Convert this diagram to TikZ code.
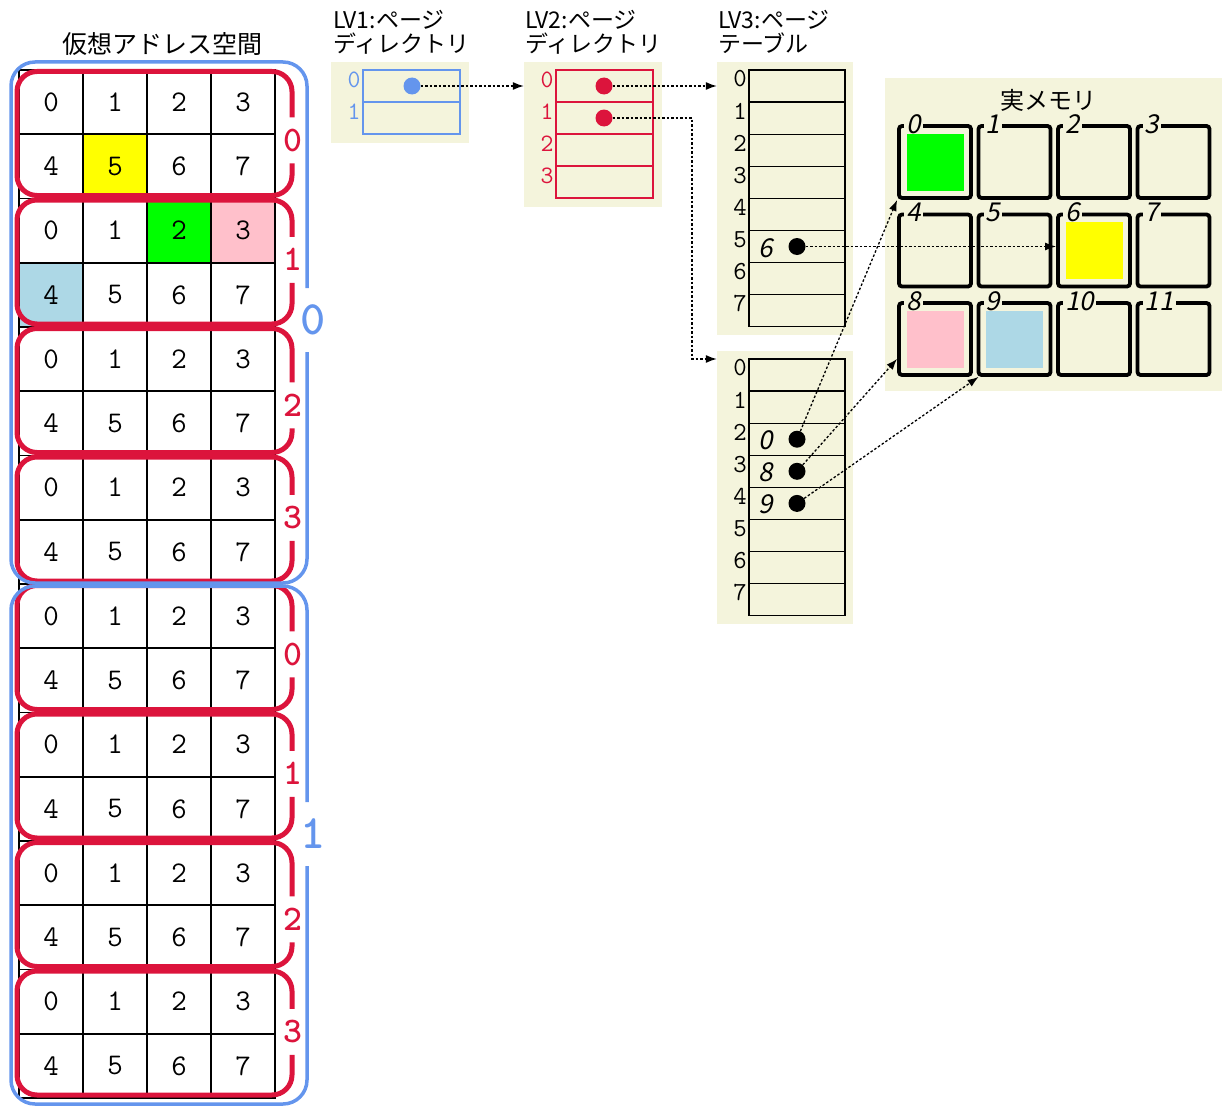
\documentclass[tikz,border=0pt]{standalone}
\usepackage{fontspec}
\setmainfont{Noto Sans CJK JP}
\newfontfamily\obliquefont[FakeSlant=0.2]{Noto Sans CJK JP}
\usepackage{tikz}
\usetikzlibrary{arrows.meta,calc}
\definecolor{membg}{HTML}{F4F4DC}
\definecolor{vred}{HTML}{DC143C}
\definecolor{vblue}{HTML}{6495ED}
\definecolor{pgyellow}{HTML}{FFFF00}
\definecolor{pggreen}{HTML}{00FF00}
\definecolor{pgpink}{HTML}{FFC0CB}
\definecolor{pgcyan}{HTML}{ADD8E6}

\begin{document}
\begin{tikzpicture}[x=1pt,y=-1pt,
  cell/.style={draw, line width=1.6pt, minimum width=64pt, minimum height=64.25pt, inner sep=0pt, font=\fontsize{30}{30}\selectfont\ttfamily},
  grpred/.style={draw=vred, line width=5pt, rounded corners=20pt},
  grpblue/.style={draw=vblue, line width=3.5pt, rounded corners=24pt},
  grplabel/.style={font=\fontsize{36}{36}\selectfont\ttfamily\bfseries, inner sep=0pt},
  dirlabel/.style={font=\fontsize{48}{48}\selectfont\ttfamily\bfseries, inner sep=0pt, text=vblue},
  titletext/.style={font=\fontsize{23}{24}\selectfont, inner sep=0pt},
  lvbg/.style={fill=membg, inner sep=0pt},
  lvrow/.style={minimum width=97pt, minimum height=32pt, inner sep=0pt, line width=1.3pt},
  idx/.style={font=\fontsize{25}{25}\selectfont\ttfamily, inner sep=0pt},
  dotmark/.style={circle, fill=black, minimum size=17pt, inner sep=0pt},
  italnum/.style={font=\fontsize{26}{26}\selectfont\obliquefont, inner sep=0pt},
  frame/.style={draw, line width=3.8pt, rounded corners=3pt, minimum size=72pt, inner sep=0pt},
  framelab/.style={font=\fontsize{26}{26}\selectfont\obliquefont, anchor=west, fill=membg, inner xsep=2pt, inner ysep=0pt},
  ptr/.style={line width=1.3pt, dash pattern=on 2.5pt off 2pt, -{Latex[length=11pt,width=8pt]}}]
  \useasboundingbox (0,0) rectangle (1229,1108);

  \node[titletext, font=\fontsize{25}{26}\selectfont] (vtitle) at (162,44) {仮想アドレス空間};
  \foreach \k/\c/\col in {1/1/pgyellow,2/2/pggreen,2/3/pgpink,3/0/pgcyan}
    \fill[\col] (19+64*\c,70+64.25*\k) rectangle (83+64*\c,134.25+64.25*\k);
  \foreach \k in {0,...,15}{
    \foreach \c in {0,...,3}{
      \pgfmathtruncatemacro{\v}{4*mod(\k,2)+\c}
      \node[cell] (cell-\k-\c) at (51+64*\c,102.1+64.25*\k) {\v};
    }
  }
  \foreach \b/\dy in {0/6,1/-3,2/14,3/-2,4/6,5/-3,6/14,7/-2}{
    \pgfmathsetmacro{\gtop}{71.5+128.5*\b}
    \pgfmathsetmacro{\gbot}{195.5+128.5*\b}
    \pgfmathsetmacro{\gmid}{134.25+128.5*\b+\dy}
    \pgfmathtruncatemacro{\glab}{mod(\b,4)}
    \draw[grpred] (292,\gmid-23) -- (292,\gtop) -- (17,\gtop) -- (17,\gbot) -- (292,\gbot) -- (292,\gmid+23);
    \node[grplabel, text=vred] (grp\b) at (293,\gmid) {\glab};
  }
  \draw[grpblue] (307,288) -- (307,62) -- (11,62) -- (11,583) -- (307,583) -- (307,352);
  \node[dirlabel] (dir0) at (313,320) {0};
  \draw[grpblue] (307,802) -- (307,586) -- (11,586) -- (11,1104) -- (307,1104) -- (307,866);
  \node[dirlabel] (dir1) at (313,834) {1};

  \node[titletext, align=left, anchor=west] (lv1t) at (333,32) {LV1:ページ\\ディレクトリ};
  \node[lvbg, minimum width=138pt, minimum height=81pt] (lv1bg) at (400,102.5) {};
  \foreach \i in {0,1}{
    \node[lvrow, draw=vblue] (lv1r\i) at (411.5,86+32*\i) {};
    \node[idx, text=vblue] (lv1i\i) at (354,80+32*\i) {\i};
  }
  \node[dotmark, fill=vblue] (lv1d) at (412,86) {};

  \node[titletext, align=left, anchor=west] (lv2t) at (525,32) {LV2:ページ\\ディレクトリ};
  \node[lvbg, minimum width=138pt, minimum height=145pt] (lv2bg) at (593,134.5) {};
  \foreach \i in {0,...,3}{
    \node[lvrow, draw=vred] (lv2r\i) at (604.5,86+32*\i) {};
    \node[idx, text=vred] (lv2i\i) at (547,80+32*\i) {\i};
  }
  \node[dotmark, fill=vred] (lv2d0) at (604,86) {};
  \node[dotmark, fill=vred] (lv2d1) at (604,118) {};

  \node[titletext, align=left, anchor=west] (lv3t) at (718,32) {LV3:ページ\\テーブル};
  \node[lvbg, minimum width=136pt, minimum height=273pt] (lv3abg) at (785,198.5) {};
  \node[lvbg, minimum width=136pt, minimum height=273pt] (lv3bbg) at (785,487.5) {};
  \foreach \i in {0,...,7}{
    \node[lvrow, draw, minimum width=96pt, minimum height=32.1pt] (lv3ar\i) at (797,86+32.1*\i) {};
    \node[idx, font=\fontsize{26}{26}\selectfont\ttfamily] (lv3ai\i) at (740,79+32.1*\i) {\i};
    \node[lvrow, draw, minimum width=96pt, minimum height=32.1pt] (lv3br\i) at (797,375+32.1*\i) {};
    \node[idx, font=\fontsize{26}{26}\selectfont\ttfamily] (lv3bi\i) at (740,368+32.1*\i) {\i};
  }
  \node[italnum] (lv3av) at (766,248) {6};
  \node[dotmark] (lv3ad) at (797,246.5) {};
  \foreach \i/\f in {2/0,3/8,4/9}{
    \node[italnum] (lv3bv\i) at (766,376+32.1*\i) {\f};
    \node[dotmark] (lv3bd\i) at (797,375+32.1*\i) {};
  }

  \node[lvbg, minimum width=337pt, minimum height=313pt] (mem) at (1053.5,234.5) {};
  \node[titletext, font=\fontsize{24}{24}\selectfont] (memt) at (1048,100) {実メモリ};
  \foreach \n in {0,...,11}{
    \pgfmathtruncatemacro{\fr}{div(\n,4)}
    \pgfmathtruncatemacro{\fc}{mod(\n,4)}
    \node[frame] (f\n) at (935+79.5*\fc,162+88.5*\fr) {};
  }
  \foreach \n/\col in {0/pggreen,6/pgyellow,8/pgpink,9/pgcyan}
    \node[fill=\col, minimum size=57pt, inner sep=0pt] (pg\n) at (f\n) {};
  \foreach \n in {0,...,11}
    \node[framelab] (fl\n) at ([xshift=7pt]f\n.north west) {\n};

  \draw[ptr] (lv1d) -- (lv1d -| lv2bg.west);
  \draw[ptr] (lv2d0) -- (lv2d0 -| lv3abg.west);
  \coordinate (lv2bend) at (692,359);
  \draw[ptr] (lv2d1) -| (lv2bend) -- (lv2bend -| lv3bbg.west);
  \draw[ptr] (lv3ad) -- (lv3ad -| f6.west);
  \draw[ptr] (lv3bd2) -- (f0.south west);
  \draw[ptr] (lv3bd3) -- ([yshift=18pt]f8.south west);
  \draw[ptr] (lv3bd4) -- ([xshift=2pt]f9.south west);
\end{tikzpicture}
\end{document}
